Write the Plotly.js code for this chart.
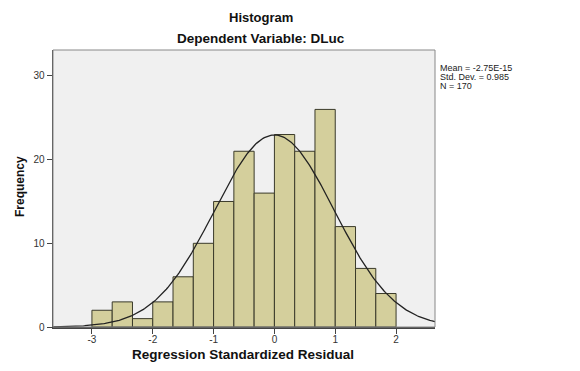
<!DOCTYPE html>
<html><head><meta charset="utf-8">
<script src="https://cdn.plot.ly/plotly-3.0.1.min.js"></script>
<style>html,body{margin:0;padding:0;background:#fff;}#chart{width:580px;height:371px;}</style>
</head><body><div id="chart"></div>
<script>
// Histogram bins (left edges) and counts
var binStarts = [-3, -2.6667, -2.3333, -2, -1.6667, -1.3333, -1, -0.6667, -0.3333, 0, 0.3333, 0.6667, 1, 1.3333, 1.6667];
var counts = [2, 3, 1, 3, 6, 10, 15, 21, 16, 23, 21, 26, 12, 7, 4];
var binWidth = 1/3;
var mean = -2.75e-15;
var stdDev = 0.985;
var nObs = 170;
var yTicks = [0, 10, 20, 30];
var xTicks = [-3, -2, -1, 0, 1, 2];
var statLines = ['Mean = -2.75E-15', 'Std. Dev. = 0.985', 'N = 170'];

var centers = binStarts.map(function(s){ return s + binWidth/2; });

// normal curve from stated mean / sd / N
var cx = [], cy = [];
for (var i = 0; i <= 300; i++) {
  var x = -3.64 + i * (6.28/300);
  var z = (x - mean) / stdDev;
  cx.push(x);
  cy.push(nObs * binWidth * Math.exp(-0.5*z*z) / (stdDev * Math.sqrt(2*Math.PI)));
}

var traces = [
  {type:'bar', x:centers, y:counts, width:binWidth,
   marker:{color:'#d4cf9c', line:{color:'#3a3a2a', width:1}}, hoverinfo:'x+y'},
  {type:'scatter', mode:'lines', x:cx, y:cy, line:{color:'#222', width:1.3}, hoverinfo:'skip'}
];

var f = 'Arial, "Liberation Sans", sans-serif';
var W = 382, H = 277, L = 53, T = 50;
function px(x){ return (x - L)/W; }
function py(y){ return 1 - (y - T)/H; }
var annotations = [
  {xref:'paper', yref:'paper', x:px(261), y:py(17), xanchor:'center', yanchor:'middle', showarrow:false,
   text:'<b>Histogram</b>', font:{family:f, size:13, color:'#111'}},
  {xref:'paper', yref:'paper', x:px(261), y:py(38), xanchor:'center', yanchor:'middle', showarrow:false,
   text:'<b>Dependent Variable: DLuc</b>', font:{family:f, size:13.5, color:'#111'}},
  {xref:'paper', yref:'paper', x:px(243), y:py(354), xanchor:'center', yanchor:'middle', showarrow:false,
   text:'<b>Regression Standardized Residual</b>', font:{family:f, size:13.5, color:'#111'}},
  {xref:'paper', yref:'paper', x:px(20), y:py(187), xanchor:'center', yanchor:'middle', showarrow:false, textangle:-90,
   text:'<b>Frequency</b>', font:{family:f, size:12, color:'#111'}}
];
statLines.forEach(function(t, k){
  annotations.push({xref:'paper', yref:'paper', x:px(438), y:py(68 + 9*k), xanchor:'left', yanchor:'middle', showarrow:false,
    text:t, font:{family:f, size:9, color:'#222'}});
});

var layout = {
  width:580, height:371,
  margin:{l:L, r:580-L-W, t:T, b:371-T-H},
  paper_bgcolor:'#ffffff', plot_bgcolor:'#f0f0f0',
  showlegend:false, bargap:0,
  font:{family:f, size:10, color:'#333'},
  xaxis:{range:[-3.64, 2.64], tickvals:xTicks, ticktext:xTicks.map(String),
    ticks:'outside', ticklen:5, tickcolor:'#444', showgrid:false, zeroline:false,
    showline:true, linecolor:'#444', linewidth:1.5, ticklabelstandoff:-3,
    tickfont:{family:f, size:10, color:'#333'}},
  yaxis:{range:[0, 33.1], tickvals:yTicks, ticktext:yTicks.map(String),
    ticks:'outside', ticklen:5, tickcolor:'#444', showgrid:false, zeroline:false,
    showline:true, linecolor:'#444', linewidth:1.5,
    tickfont:{family:f, size:10, color:'#333'}},
  shapes:[{type:'rect', xref:'paper', yref:'paper', x0:0, x1:1, y0:0, y1:1,
    line:{color:'#888', width:1}, fillcolor:'rgba(0,0,0,0)', layer:'above'}],
  annotations:annotations
};
Plotly.newPlot('chart', traces, layout, {displayModeBar:false, staticPlot:true});
</script></body></html>
